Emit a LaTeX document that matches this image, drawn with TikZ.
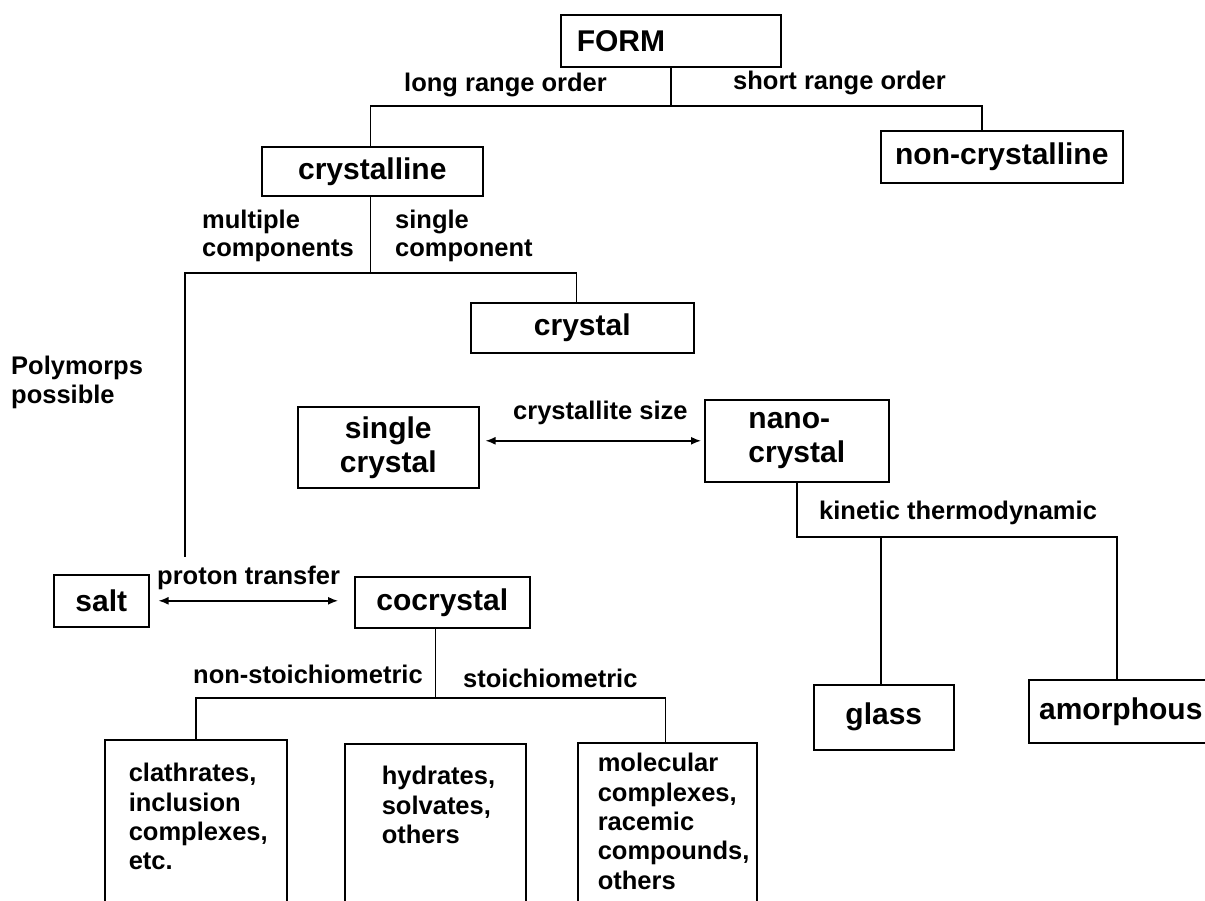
\documentclass[tikz,border=0pt]{standalone}
\usepackage{fontspec}
\setmainfont{Liberation Sans}
\usetikzlibrary{arrows.meta}

\begin{document}
\begin{tikzpicture}[
			x=1pt, y=-1pt
			,box/.style={draw, line width=1.6pt, inner sep=0pt, anchor=north west, font=\bfseries\fontsize{30}{34}\selectfont}
			,small/.style={font=\bfseries\fontsize{25.5}{29.3}\selectfont}
			,lbl/.style={inner sep=0pt, anchor=west, align=left, font=\bfseries\fontsize{25.5}{28.5}\selectfont}
			,conn/.style={line width=1.4pt}
			,dbl/.style={conn, {Latex[length=10pt,width=8pt]}-{Latex[length=10pt,width=8pt]}}
		]
			\useasboundingbox (0,0) rectangle (1205,901);
			\clip (0,0) rectangle (1205,901);

			\node [box, minimum width=220pt, minimum height=52pt, text width=188pt, inner xsep=16pt, align=left] (form) at (560,14) {FORM};
			\node [box, minimum width=221pt, minimum height=49pt] (cryst) at (261,146) {crystalline};
			\node [box, minimum width=242pt, minimum height=52pt] (noncryst) at (880,130) {non-crystalline};
			\node [box, minimum width=223pt, minimum height=50pt] (crystal) at (470,302) {crystal};
			\node [box, minimum width=181pt, minimum height=81pt, align=center] (single) at (297,406) {single\\crystal};
			\node [box, minimum width=184pt, minimum height=82pt, align=left] (nano) at (704,399) {nano-\\crystal};
			\node [box, minimum width=95pt, minimum height=52pt] (salt) at (53,574) {salt};
			\node [box, minimum width=175pt, minimum height=51pt] (cocr) at (354,576) {cocrystal};
			\node [box, minimum width=140pt, minimum height=65pt] (glass) at (813,684) {glass};
			\node [box, minimum width=184pt, minimum height=63pt] (amorph) at (1028,679) {amorphous};
			\node [box, small] (clath) at (104,739) {\parbox[c][180pt][t]{182pt}{\raggedright\leftskip=24pt\rule{0pt}{42pt}clathrates,\\inclusion\\complexes,\\etc.}};
			\node [box, small] (hydr) at (344,743) {\parbox[c][180pt][t]{181pt}{\raggedright\leftskip=37pt\rule{0pt}{41pt}hydrates,\\solvates,\\others}};
			\node [box, small] (molec) at (577,742) {\parbox[c][180pt][t]{179pt}{\raggedright\leftskip=20pt\rule{0pt}{29pt}molecular\\complexes,\\racemic\\compounds,\\others}};

			\node [lbl] (lro) at (404,85) {long range order};
			\node [lbl] (sro) at (733,83) {short range order};
			\node [lbl] (multi) at (202,236) {multiple\\components};
			\node [lbl] (singc) at (395,236) {single\\component};
			\node [lbl] (poly) at (11,382.5) {Polymorps\\possible};
			\node [lbl] (csize) at (513,413) {crystallite size};
			\node [lbl] (ptrans) at (157,578) {proton transfer};
			\node [lbl] (kin) at (819,513) {kinetic thermodynamic};
			\node [lbl] (nonst) at (193,674) {non-stoichiometric};
			\node [lbl] (stoi) at (463,678) {stoichiometric};

			\coordinate (bus1) at (0,106);
			\coordinate (bus2) at (0,273);
			\coordinate (bus3) at (0,537);
			\coordinate (bus4) at (0,698);
			\coordinate (pp) at (185,557);

			\draw [conn] (form.south) -- (form.south |- bus1) -| ([xshift=-2pt]cryst.north);
			\draw [conn] (form.south |- bus1) -| ([xshift=-20pt]noncryst.north);
			\draw [conn] ([xshift=-2pt]cryst.south) -- ([xshift=-2pt]cryst.south |- bus2) -| ([xshift=-6pt]crystal.north);
			\draw [conn] ([xshift=-2pt]cryst.south |- bus2) -| (pp);
			\draw [conn] (nano.south) -- (nano.south |- bus3) -| ([xshift=-3pt]glass.north);
			\draw [conn] (nano.south |- bus3) -| ([xshift=-4pt]amorph.north);
			\draw [conn] ([xshift=-7pt]cocr.south) -- ([xshift=-7pt]cocr.south |- bus4) -| (clath.north);
			\draw [conn] ([xshift=-7pt]cocr.south |- bus4) -| ([xshift=-2pt]molec.north);

			\draw [dbl, shorten <=9pt, shorten >=16pt] (salt.east) -- (salt.east -| cocr.west);
			\draw [dbl, shorten <=6pt, shorten >=3pt] (single.east |- nano.west) -- (nano.west);
		\end{tikzpicture}
\end{document}
